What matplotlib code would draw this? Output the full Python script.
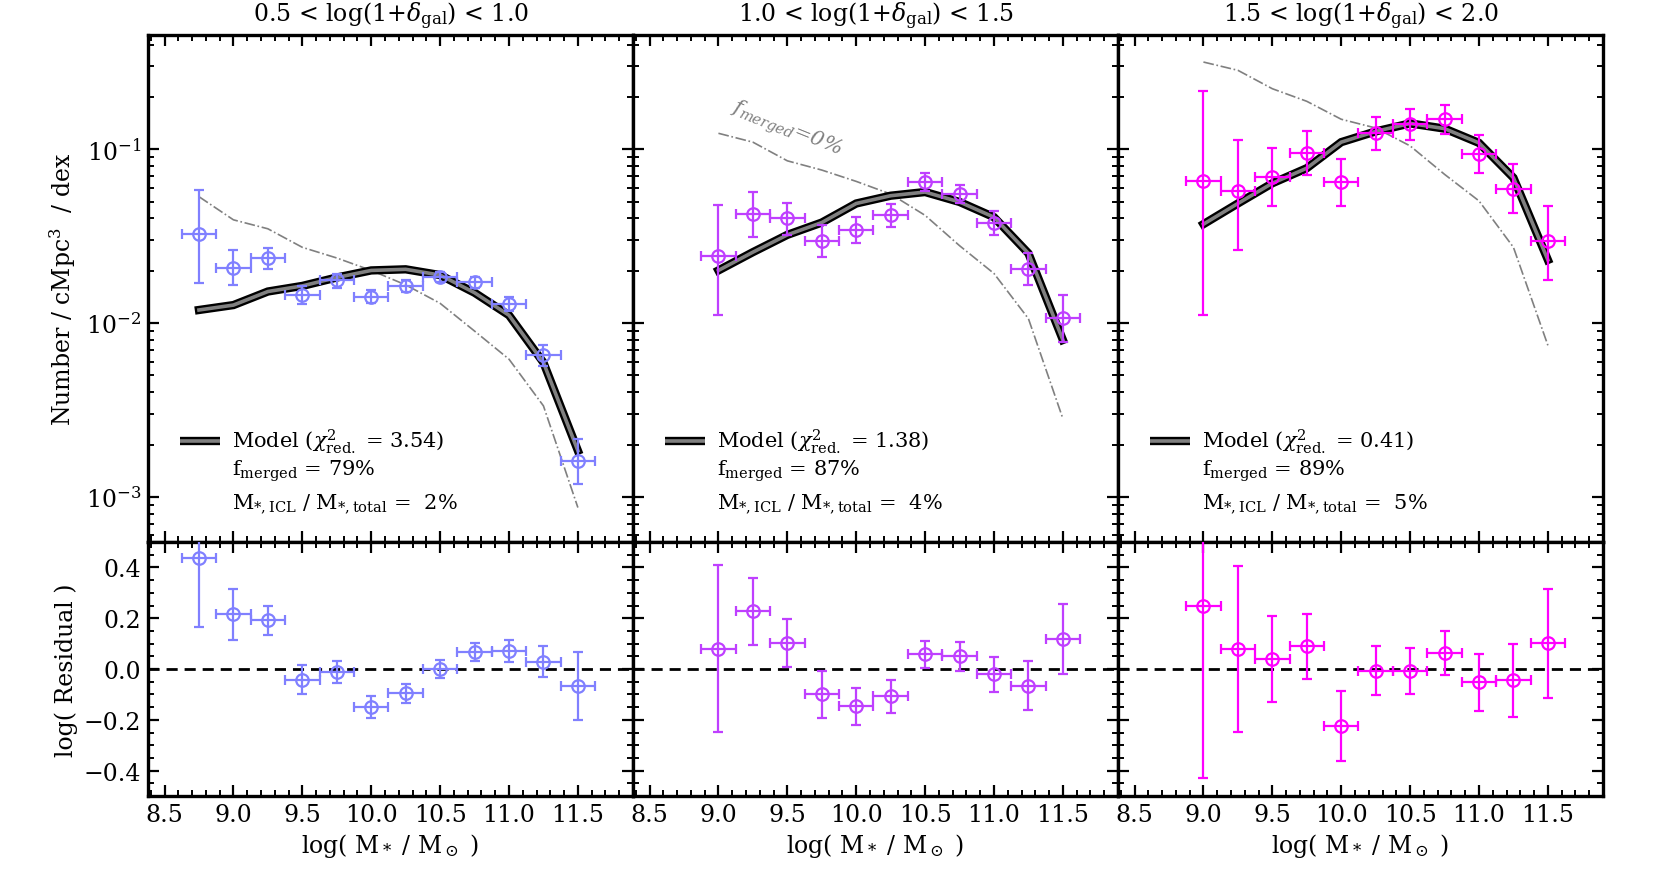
import os, glob
import numpy as np
import matplotlib
matplotlib.use("Agg")
import matplotlib.pyplot as plt
import matplotlib.patheffects as pe
from matplotlib import font_manager
from matplotlib.ticker import MultipleLocator, LogLocator, NullFormatter

for f in glob.glob(os.path.join(matplotlib.get_data_path(), 'fonts', 'ttf', 'DejaVuSerif*.ttf')):
    try:
        font_manager.fontManager.addfont(f)
    except Exception:
        pass

plt.rcParams['font.family'] = ['DejaVu Serif', 'Liberation Serif']
plt.rcParams['mathtext.fontset'] = 'dejavuserif'

# ---------------- data ----------------
titles = ["0.5 < log(1+$\\delta_{\\rm gal}$) < 1.0",
          "1.0 < log(1+$\\delta_{\\rm gal}$) < 1.5",
          "1.5 < log(1+$\\delta_{\\rm gal}$) < 2.0"]
colors = ["#8080ff", "#bf3fff", "#ff00ff"]
chi2 = ["3.54", "1.38", "0.41"]
fmerged = ["79%", "87%", "89%"]
ficl = ["2%", "4%", "5%"]

mass1 = [8.75, 9.0, 9.25, 9.5, 9.75, 10.0, 10.25, 10.5, 10.75, 11.0, 11.25, 11.5]
mass23 = [9.0, 9.25, 9.5, 9.75, 10.0, 10.25, 10.5, 10.75, 11.0, 11.25, 11.5]

# panel 1
smf1 = [0.0327, 0.0208, 0.0236, 0.01455, 0.0176, 0.01416, 0.01637, 0.01845, 0.01717, 0.0128, 0.00656, 0.0016]
smf1_hi = [0.0586, 0.0263, 0.0270, 0.0164, 0.0191, 0.0155, 0.0177, 0.0196, 0.0185, 0.0141, 0.00752, 0.00215]
smf1_lo = [0.0170, 0.0166, 0.0206, 0.0128, 0.0160, 0.0130, 0.0151, 0.0172, 0.0160, 0.0118, 0.00566, 0.00118]
model1 = [0.0119, 0.0127, 0.0152, 0.01637, 0.0183, 0.0201, 0.0204, 0.0189, 0.01496, 0.0111, 0.00593, 0.001845]
nomerge1 = [0.0534, 0.0393, 0.0349, 0.0273, 0.0237, 0.0201, 0.0166, 0.0130, 0.0090, 0.0062, 0.00334, 0.000868]
res1 = [0.437, 0.216, 0.193, -0.042, -0.012, -0.150, -0.094, 0.0, 0.067, 0.070, 0.028, -0.068]
res1_hi = [0.69, 0.316, 0.250, 0.014, 0.030, -0.105, -0.058, 0.034, 0.102, 0.113, 0.089, 0.066]
res1_lo = [0.164, 0.115, 0.135, -0.098, -0.056, -0.193, -0.134, -0.035, 0.030, 0.026, -0.033, -0.199]

# panel 2
smf2 = [0.0243, 0.0423, 0.0400, 0.0297, 0.0345, 0.0420, 0.0647, 0.0552, 0.0376, 0.0206, 0.0107]
smf2_hi = [0.0479, 0.0568, 0.0492, 0.0367, 0.0407, 0.0485, 0.0730, 0.0624, 0.0442, 0.0254, 0.0145]
smf2_lo = [0.0111, 0.0311, 0.0322, 0.0240, 0.0290, 0.0359, 0.0575, 0.0488, 0.0322, 0.0165, 0.0078]
model2 = [0.0201, 0.0256, 0.0322, 0.0379, 0.0488, 0.0541, 0.0568, 0.0498, 0.0407, 0.0252, 0.0080]
nomerge2 = [0.1237, 0.110, 0.0859, 0.076, 0.0654, 0.0553, 0.0417, 0.0279, 0.0193, 0.0106, 0.00282]
res2 = [0.080, 0.227, 0.104, -0.097, -0.147, -0.105, 0.059, 0.050, -0.020, -0.066, 0.118]
res2_hi = [0.408, 0.358, 0.198, -0.007, -0.075, -0.042, 0.109, 0.105, 0.049, 0.030, 0.256]
res2_lo = [-0.248, 0.093, 0.008, -0.193, -0.222, -0.173, 0.004, -0.007, -0.090, -0.161, -0.020]

# panel 3
smf3 = [0.0654, 0.0575, 0.0695, 0.0953, 0.0647, 0.124, 0.139, 0.149, 0.094, 0.0594, 0.0297]
smf3_hi = [0.216, 0.1135, 0.1014, 0.1268, 0.0881, 0.1545, 0.1706, 0.1803, 0.1208, 0.0820, 0.0474]
smf3_lo = [0.0112, 0.0263, 0.0470, 0.0711, 0.0474, 0.0991, 0.1125, 0.1219, 0.0730, 0.0428, 0.0178]
model3 = [0.0371, 0.0488, 0.0638, 0.0779, 0.110, 0.1268, 0.141, 0.1316, 0.1089, 0.0686, 0.0231]
nomerge3 = [0.318, 0.285, 0.2233, 0.189, 0.149, 0.1327, 0.1047, 0.0718, 0.0505, 0.0273, 0.00745]
res3 = [0.247, 0.079, 0.039, 0.089, -0.226, -0.007, -0.009, 0.063, -0.052, -0.045, 0.102]
res3_hi = [0.77, 0.407, 0.210, 0.216, -0.088, 0.089, 0.083, 0.151, 0.059, 0.100, 0.316]
res3_lo = [-0.429, -0.249, -0.130, -0.039, -0.363, -0.101, -0.097, -0.025, -0.164, -0.189, -0.114]

bin_half = 0.125

panels = [
    (mass1, smf1, smf1_lo, smf1_hi, model1, nomerge1, res1, res1_lo, res1_hi),
    (mass23, smf2, smf2_lo, smf2_hi, model2, nomerge2, res2, res2_lo, res2_hi),
    (mass23, smf3, smf3_lo, smf3_hi, model3, nomerge3, res3, res3_lo, res3_hi),
]

# ---------------- figure ----------------
fig = plt.figure(figsize=(16.6, 8.87), dpi=100)
gs = fig.add_gridspec(2, 3, height_ratios=[507, 254], hspace=0, wspace=0,
                      left=148/1660, right=1603/1660, top=1-36/887, bottom=1-797/887)

FS = 17      # titles, ticks, axis labels
FSL = 15     # in-panel annotations
model_pe = [pe.Stroke(linewidth=6.0, foreground='black'), pe.Normal()]

def style_axis(ax):
    for s in ax.spines.values():
        s.set_linewidth(2.4)
    ax.tick_params(which='both', direction='in', top=True, right=True, labelsize=FS)
    ax.tick_params(which='major', length=8, width=1.6, pad=5)
    ax.tick_params(which='minor', length=4, width=1.4)

axes_top = []
axes_bot = []
for i, (m, y, ylo, yhi, mod, nom, r, rlo, rhi) in enumerate(panels):
    ax = fig.add_subplot(gs[0, i])
    axr = fig.add_subplot(gs[1, i])
    axes_top.append(ax)
    axes_bot.append(axr)
    m = np.array(m)
    y = np.array(y); ylo = np.array(ylo); yhi = np.array(yhi)
    r = np.array(r); rlo = np.array(rlo); rhi = np.array(rhi)

    ax.set_yscale('log')
    ax.plot(m, nom, color='gray', lw=1.2, ls='-.', zorder=2)
    ax.plot(m, mod, color='#808080', lw=2.6, path_effects=model_pe, zorder=3,
            solid_joinstyle='miter')
    ax.errorbar(m, y, yerr=[y - ylo, yhi - y], xerr=bin_half, fmt='o', mfc='none',
                mec=colors[i], ecolor=colors[i], ms=9, mew=1.6, elinewidth=1.6,
                capsize=3.5, capthick=1.6, zorder=4)

    ax.set_xlim(8.38, 11.9)
    ax.set_ylim(5.5e-4, 0.455)
    ax.set_title(titles[i], fontsize=FS, pad=10)
    ax.xaxis.set_major_locator(MultipleLocator(0.5))
    ax.xaxis.set_minor_locator(MultipleLocator(0.1))
    ax.yaxis.set_major_locator(LogLocator(base=10, numticks=10))
    ax.yaxis.set_minor_locator(LogLocator(base=10, subs=np.arange(2, 10), numticks=10))
    ax.yaxis.set_minor_formatter(NullFormatter())
    ax.tick_params(labelbottom=False)
    style_axis(ax)

    # legend-like annotation
    ax.plot([0.066, 0.148], [0.199, 0.199], transform=ax.transAxes, color='#808080',
            lw=2.6, path_effects=model_pe, solid_capstyle='butt', clip_on=False)
    ax.text(0.174, 0.199, "Model ($\\chi^2_{\\rm red.}$ = %s)" % chi2[i], transform=ax.transAxes,
            fontsize=FSL, va='center', ha='left')
    ax.text(0.174, 0.141, "f$_{\\rm merged}$ = %s" % fmerged[i], transform=ax.transAxes,
            fontsize=FSL, va='center', ha='left')
    ax.text(0.174, 0.078, "M$_{*,\\rm ICL}$ / M$_{*,\\rm total}$ =  %s" % ficl[i],
            transform=ax.transAxes, fontsize=FSL, va='center', ha='left')

    # residuals
    axr.axhline(0.0, color='black', ls='--', lw=2.0, dashes=(4, 2.5), zorder=1)
    axr.errorbar(m, r, yerr=[r - rlo, rhi - r], xerr=bin_half, fmt='o', mfc='none',
                 mec=colors[i], ecolor=colors[i], ms=9, mew=1.6, elinewidth=1.6,
                 capsize=3.5, capthick=1.6, zorder=3)
    axr.set_xlim(8.38, 11.9)
    axr.set_ylim(-0.5, 0.5)
    axr.xaxis.set_major_locator(MultipleLocator(0.5))
    axr.xaxis.set_minor_locator(MultipleLocator(0.1))
    axr.yaxis.set_major_locator(MultipleLocator(0.2))
    axr.yaxis.set_minor_locator(MultipleLocator(0.05))
    axr.set_xlabel("log( M$_*$ / M$_\\odot$ )", fontsize=FS, labelpad=4)
    style_axis(axr)
    axr.set_xticks([8.5, 9.0, 9.5, 10.0, 10.5, 11.0, 11.5])
    axr.set_xticklabels(["8.5", "9.0", "9.5", "10.0", "10.5", "11.0", "11.5"])
    if i > 0:
        ax.tick_params(labelleft=False)
        axr.tick_params(labelleft=False)

axes_top[0].set_ylabel("Number / cMpc$^3$  / dex", fontsize=FS)
axes_bot[0].set_ylabel("log( Residual )", fontsize=FS)
axes_bot[0].set_yticks([0.4, 0.2, 0.0, -0.2, -0.4])
fig.align_ylabels([axes_top[0], axes_bot[0]])

axes_top[1].text(9.49, 0.133, "$f_{merged}$=0%", color='gray', fontsize=FSL, style='italic',
                 rotation=-22, ha='center', va='center')

fig.savefig("out.png", dpi=100)
